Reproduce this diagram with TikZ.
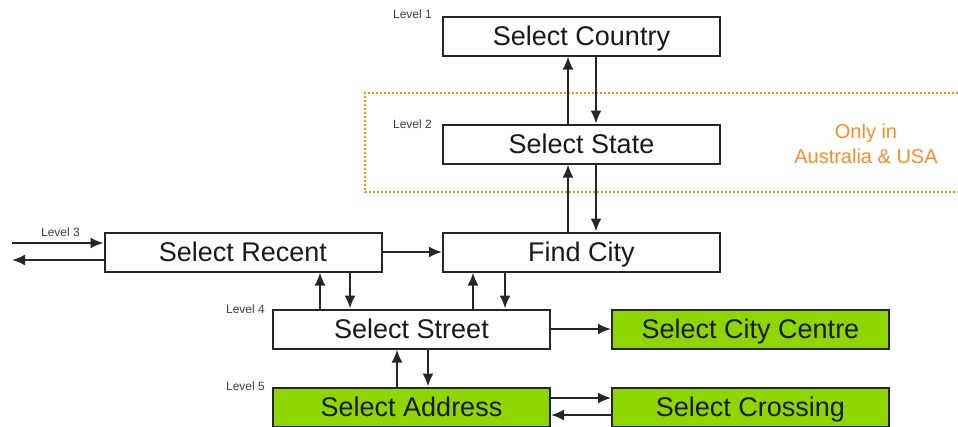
\documentclass[tikz,border=0pt]{standalone}
\usepackage{fontspec}
\setmainfont{Liberation Sans}
\usetikzlibrary{arrows.meta}
\definecolor{boxgreen}{RGB}{143,214,0}
\definecolor{note}{RGB}{250,140,40}
\tikzset{
  box/.style={draw=black!85, line width=2pt, fill=white, minimum width=277pt, minimum height=39pt, inner sep=0pt, text height=19.5pt, text depth=0pt, font=\fontsize{27}{29}\selectfont, text=black!90},
  greenbox/.style={box, fill=boxgreen},
  arr/.style={line width=2pt, draw=black!85, -{Latex[length=13pt,width=11pt]}},
  lvl/.style={font=\fontsize{12}{13}\selectfont, text=black!75, anchor=east, inner sep=0pt},
  notetext/.style={font=\fontsize{20}{25}\selectfont, text=note, align=center},
  region/.style={draw=note, line width=2pt, dotted}
}
\begin{document}
\begin{tikzpicture}[x=1pt,y=-1pt]
\useasboundingbox (0,0) rectangle (958,426);
% dotted region
\draw[region] (966,93) -- (365,93) -- (365,192) -- (966,192);
\node[notetext] (onlyin) at (866,144) {Only in\\Australia \& USA};
% boxes
\node[box] (country) at (581.5,36) {Select Country};
\node[box] (state) at (581.5,144) {Select State};
\node[box] (city) at (581.5,252) {Find City};
\node[box] (recent) at (243,252) {Select Recent};
\node[box] (street) at (411.5,329) {Select Street};
\node[greenbox] (centre) at (750.5,329) {Select City Centre};
\node[greenbox] (address) at (411.5,407) {Select Address};
\node[greenbox] (crossing) at (750.5,407) {Select Crossing};
% level labels
\node[lvl] (l1) at (432,14) {Level 1};
\node[lvl] (l2) at (432,124) {Level 2};
\node[lvl] (l3) at (80,232) {Level 3};
\node[lvl] (l4) at (265,309) {Level 4};
\node[lvl] (l5) at (265,386) {Level 5};
% helper coordinates
\coordinate (xa) at (568,0);
\coordinate (xb) at (596,0);
\coordinate (xc) at (320,0);
\coordinate (xd) at (350,0);
\coordinate (xe) at (473,0);
\coordinate (xf) at (505,0);
\coordinate (xg) at (397,0);
\coordinate (xh) at (428,0);
\coordinate (ya) at (0,398);
\coordinate (yb) at (0,415);
\coordinate (l3in) at (12,243);
\coordinate (l3out) at (12,260);
% connectors
\draw[arr] (state.north -| xa) -- (country.south -| xa);
\draw[arr] (country.south -| xb) -- (state.north -| xb);
\draw[arr] (city.north -| xa) -- (state.south -| xa);
\draw[arr] (state.south -| xb) -- (city.north -| xb);
\draw[arr] (recent) -- (city);
\draw[arr] (l3in) -- (l3in -| recent.west);
\draw[arr] (recent.west |- l3out) -- (l3out);
\draw[arr] (street.north -| xc) -- (recent.south -| xc);
\draw[arr] (recent.south -| xd) -- (street.north -| xd);
\draw[arr] (street.north -| xe) -- (city.south -| xe);
\draw[arr] (city.south -| xf) -- (street.north -| xf);
\draw[arr] (street) -- (centre);
\draw[arr] (address.north -| xg) -- (street.south -| xg);
\draw[arr] (street.south -| xh) -- (address.north -| xh);
\draw[arr] (address.east |- ya) -- (crossing.west |- ya);
\draw[arr] (crossing.west |- yb) -- (address.east |- yb);
\end{tikzpicture}
\end{document}
